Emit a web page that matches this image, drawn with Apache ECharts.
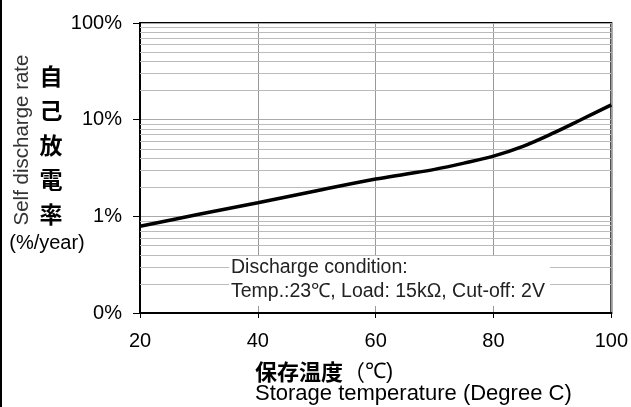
<!DOCTYPE html>
<html>
<head>
<meta charset="utf-8">
<script src="https://cdn.jsdelivr.net/npm/echarts@6/dist/echarts.min.js"></script>
<style>
html,body{margin:0;padding:0;background:#fff;}
#chart{width:631px;height:407px;}
</style>
</head>
<body>
<div id="chart"></div>
<script>
// ---- data ----
var temperatures = [20, 30, 40, 50, 60, 65, 70, 75, 80, 85, 90, 95, 100];
var dischargeRate = [0.79, 1.05, 1.38, 1.84, 2.43, 2.73, 3.06, 3.55, 4.2, 5.3, 7.2, 10.1, 14.2];
var xTicks = [20, 40, 60, 80, 100];
var yTickValues = [0.1, 1, 10, 100];
var yTickLabels = ['0%', '1%', '10%', '100%'];
var yMinorGrid = [0.2, 0.3, 0.4, 0.5, 0.6, 0.7, 0.8, 0.9, 2, 3, 4, 5, 6, 7, 8, 9, 20, 30, 40, 50, 60, 70, 80, 90];
var yTitleEn = 'Self discharge rate';
var yTitleJa = ['自', '己', '放', '電', '率'];
var yUnit = '(%/year)';
var xTitleJa = '保存温度';
var xTitleUnit = '℃)';
var xTitleEn = 'Storage temperature (Degree C)';
var noteLines = ['Discharge condition:', 'Temp.:23℃, Load: 15kΩ, Cut-off: 2V'];

var LAT = '"Liberation Sans", Arial, sans-serif';
var CJK = '"Noto Sans CJK JP", sans-serif';

var chart = echarts.init(document.getElementById('chart'), null, {renderer: 'canvas'});
chart.setOption({
  animation: false,
  backgroundColor: '#fff',
  grid: {left: 140, right: 19, top: 23, bottom: 94, show: true, borderColor: '#000', borderWidth: 2, backgroundColor: 'transparent'},
  xAxis: {
    type: 'value', min: xTicks[0], max: xTicks[xTicks.length - 1], interval: 20,
    axisLine: {show: true, onZero: false, lineStyle: {color: '#000', width: 2}},
    axisTick: {show: true, length: 5, lineStyle: {color: '#000', width: 1}},
    axisLabel: {margin: 18, color: '#000', fontSize: 20, fontFamily: LAT},
    splitLine: {show: true, lineStyle: {color: '#999', width: 1}}
  },
  yAxis: {
    type: 'log', logBase: 10, min: yTickValues[0], max: yTickValues[yTickValues.length - 1],
    axisLine: {show: true, lineStyle: {color: '#000', width: 2}},
    axisTick: {show: true, length: 7, lineStyle: {color: '#000', width: 1}},
    axisLabel: {margin: 18, color: '#000', fontSize: 20, fontFamily: LAT,
      formatter: function (v) {
        for (var i = 0; i < yTickValues.length; i++) {
          if (Math.abs(v - yTickValues[i]) < 1e-9 * Math.max(1, v)) return yTickLabels[i];
        }
        return '';
      }},
    splitLine: {show: true, lineStyle: {color: '#aaa', width: 1}}
  },
  series: [
    {
      type: 'line', data: [], z: 1, silent: true,
      markLine: {
        silent: true, symbol: 'none', animation: false, z: 1,
        label: {show: false},
        lineStyle: {color: '#bbb', width: 1, type: 'solid'},
        emphasis: {disabled: true},
        data: yMinorGrid.map(function (v) { return {yAxis: v}; })
      }
    },
    {
      type: 'line', z: 10,
      data: temperatures.map(function (t, i) { return [t, dischargeRate[i]]; }),
      smooth: 0.35, showSymbol: false, symbol: 'none',
      lineStyle: {color: '#000', width: 3.5}
    }
  ],
  graphic: [
    {type: 'rect', shape: {x: 0, y: 0, width: 2, height: 407}, style: {fill: '#000'}, z: 100},
    {type: 'rect', shape: {x: 229, y: 256, width: 321, height: 50}, style: {fill: '#fff'}, z: 50},
    {type: 'text', x: 231, y: 268, z: 101, style: {text: noteLines[0], font: '19.5px ' + LAT, fill: '#222', verticalAlign: 'middle', align: 'left'}},
    {type: 'text', x: 231, y: 292, z: 101, style: {text: noteLines[1], font: '19.5px ' + LAT, fill: '#222', verticalAlign: 'middle', align: 'left'}},
    {type: 'text', x: 22, y: 140, rotation: Math.PI / 2, z: 101, style: {text: yTitleEn, font: '20.5px ' + LAT, fill: '#333', align: 'center', verticalAlign: 'middle'}},
    {type: 'text', x: 51, y: 145, z: 101, style: {text: yTitleJa.join('\n'), font: 'bold 23px ' + CJK, fill: '#000', align: 'center', verticalAlign: 'middle', lineHeight: 34.5}},
    {type: 'text', x: 47, y: 243, z: 101, style: {text: yUnit, font: '20px ' + LAT, fill: '#000', align: 'center', verticalAlign: 'middle'}},
    {type: 'text', x: 255, y: 372, z: 101, style: {
      text: '{b|' + xTitleJa + '}{p|（}{n|' + xTitleUnit + '}',
      verticalAlign: 'middle', align: 'left',
      rich: {
        b: {font: 'bold 22px ' + CJK, fill: '#000'},
        p: {font: '22px ' + CJK, fill: '#000'},
        n: {font: '21.5px ' + LAT, fill: '#000'}
      }}},
    {type: 'text', x: 255, y: 394, z: 101, style: {text: xTitleEn, font: '22px ' + LAT, fill: '#000', align: 'left', verticalAlign: 'middle'}}
  ]
});
</script>
</body>
</html>
